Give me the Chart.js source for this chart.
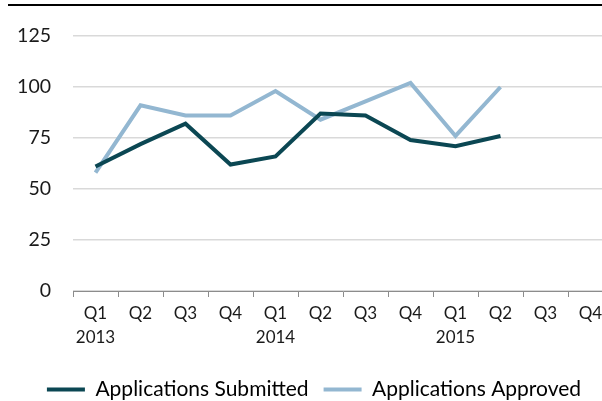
<!DOCTYPE html>
<html>
<head>
<meta charset="utf-8">
<script src="https://cdn.jsdelivr.net/npm/chart.js@4"></script>
<style>
  body { margin: 0; background: #fff; overflow: hidden; }
  #wrap { position: relative; width: 628px; height: 401px; }
  #rule { position: absolute; top: 4px; left: 8px; width: 620px; height: 2px; background: #000; }
</style>
</head>
<body>
<div id="wrap">
  <div id="rule"></div>
  <canvas id="chart"></canvas>
</div>
<script>
const quarters = [
  ['Q1', '2013'], 'Q2', 'Q3', 'Q4',
  ['Q1', '2014'], 'Q2', 'Q3', 'Q4',
  ['Q1', '2015'], 'Q2', 'Q3', 'Q4'
]
const submitted = [61, 72, 82, 62, 66, 87, 86, 74, 71, 76, null, null]
const approved = [58, 91, 86, 86, 98, 84, 93, 102, 76, 100, null, null]
const yTicks = [0, 25, 50, 75, 100, 125]

const family = 'Lato, "Liberation Sans", sans-serif'

new Chart(document.getElementById('chart'), {
  type: 'line',
  data: {
    labels: quarters,
    datasets: [{
      label: 'Applications Submitted',
      data: submitted,
      borderColor: '#0b4753',
      backgroundColor: '#0b4753',
      borderWidth: 4,
      pointRadius: 0,
      tension: 0
    }, {
      label: 'Applications Approved',
      data: approved,
      borderColor: '#93b7d1',
      backgroundColor: '#93b7d1',
      borderWidth: 4,
      pointRadius: 0,
      tension: 0
    }]
  },
  options: {
    responsive: true,
    maintainAspectRatio: false,
    animation: false,
    layout: { padding: { top: 36, left: 15, right: 15, bottom: -9 } },
    plugins: {
      tooltip: { enabled: false },
      legend: {
        position: 'bottom',
        labels: {
          font: { family: family, size: 21 },
          color: '#1a1a1a',
          boxWidth: 38,
          boxHeight: 4,
          padding: 15,
          generateLabels(chart) {
            return chart.data.datasets.map((ds, i) => ({
              text: ds.label,
              fillStyle: ds.borderColor,
              strokeStyle: ds.borderColor,
              lineWidth: 0,
              hidden: false,
              datasetIndex: i
            }))
          }
        }
      }
    },
    scales: {
      x: {
        offset: true,
        grid: { offset: true, drawOnChartArea: false, drawTicks: true, tickLength: 6, color: '#8c8c8c' },
        border: { color: '#8c8c8c', width: 1 },
        ticks: { font: { family: family, size: 17, lineHeight: 1.42 }, color: '#1a1a1a', maxRotation: 0, autoSkip: false, padding: 4 },
        afterFit(scale) { scale.height = 73 }
      },
      y: {
        min: 0,
        max: 125,
        afterBuildTicks(scale) { scale.ticks = yTicks.map(v => ({ value: v })) },
        grid: { color: '#d9d9d9', lineWidth: 1.5, drawTicks: false },
        border: { display: false },
        ticks: { font: { family: family, size: 19.5 }, color: '#1a1a1a', padding: 22 },
        afterFit(scale) { scale.width = 58 }
      }
    }
  }
})
</script>
</body>
</html>
